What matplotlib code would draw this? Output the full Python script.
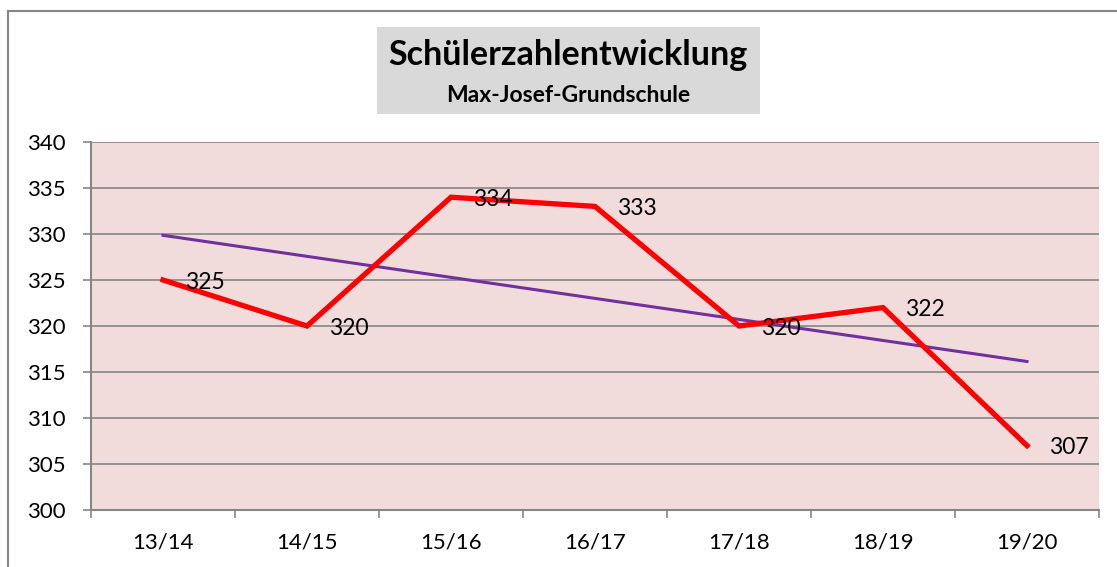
import matplotlib
matplotlib.use('Agg')
import matplotlib.pyplot as plt
import numpy as np
from matplotlib.patches import Rectangle
from matplotlib.lines import Line2D

# data
years = ['13/14', '14/15', '15/16', '16/17', '17/18', '18/19', '19/20']
pupils = [325, 320, 334, 333, 320, 322, 307]
y_ticks = [300, 305, 310, 315, 320, 325, 330, 335, 340]

title = 'Schülerzahlentwicklung'
subtitle = 'Max-Josef-Grundschule'

plt.rcParams['font.family'] = ['Lato', 'DejaVu Sans']

W, H, DPI = 1117, 567, 100
fig = plt.figure(figsize=(W / DPI, H / DPI), dpi=DPI)

# outer chart frame (only top and left edges visible)
fig.add_artist(Line2D([8 / W, 1.0], [1 - 11 / H, 1 - 11 / H], color='#868686', lw=1.5,
                      transform=fig.transFigure))
fig.add_artist(Line2D([8 / W, 8 / W], [0, 1 - 11 / H], color='#868686', lw=1.5,
                      transform=fig.transFigure))

# title box
fig.add_artist(Rectangle((377 / W, 1 - 114 / H), (760 - 377) / W, (114 - 27) / H,
                         facecolor='#D9D9D9', edgecolor='none', transform=fig.transFigure))
fig.text(568 / W, 1 - 55 / H, title, ha='center', va='center', fontsize=24.5,
         fontweight='bold', color='black')
fig.text(568 / W, 1 - 95 / H, subtitle, ha='center', va='center', fontsize=16.5,
         fontweight='bold', color='black')

ax = fig.add_axes([91 / W, 1 - 510 / H, (1099 - 91) / W, (510 - 142) / H])
ax.set_facecolor('#F2DCDB')

x = np.arange(len(years))
ax.plot(x, pupils, color='#FF0000', lw=3.8, solid_joinstyle='miter', zorder=3)

# linear trendline (as in the original spreadsheet chart)
c = np.polyfit(x, pupils, 1)
ax.plot(x, np.polyval(c, x), color='#7030A0', lw=2.2, zorder=2)

for xi, v in zip(x, pupils):
    ax.annotate(str(v), (xi, v), xytext=(16, -1.5), textcoords='offset points',
                ha='left', va='center', fontsize=16.5, color='black', zorder=4)

ax.set_xlim(-0.5, len(years) - 0.5)
ax.set_ylim(300, 340)
ax.set_yticks(y_ticks)
ax.set_yticklabels([str(t) for t in y_ticks], fontsize=16)
ax.grid(axis='y', color='#868686', lw=1.2, zorder=1)
ax.set_axisbelow(True)

# category boundaries carry tick marks, labels sit in the middle
ax.set_xticks(np.arange(-0.5, len(years)), minor=False)
ax.set_xticklabels([])
ax.set_xticks(x, minor=True)
ax.set_xticklabels(years, minor=True, fontsize=16)
ax.tick_params(axis='x', which='major', length=6, width=1.2, color='#868686', direction='out')
ax.tick_params(axis='x', which='minor', length=0, pad=16)
ax.tick_params(axis='y', length=6, width=1.2, color='#868686', pad=12)

for s in ['top', 'right']:
    ax.spines[s].set_visible(False)
for s in ['left', 'bottom']:
    ax.spines[s].set_color('#868686')
    ax.spines[s].set_linewidth(1.5)

plt.savefig('out.png', dpi=DPI)
plt.close()
